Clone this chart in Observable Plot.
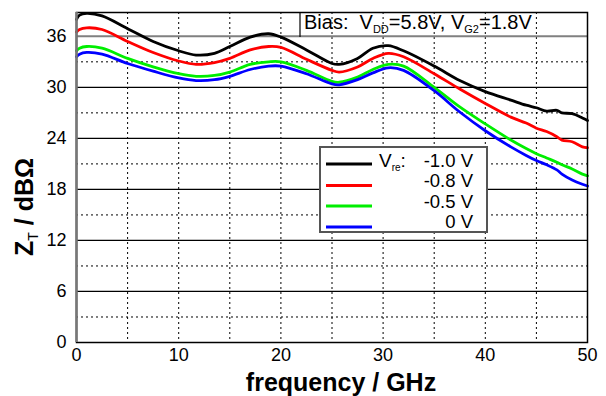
<!DOCTYPE html>
<html>
<head>
<meta charset="utf-8">
<script src="https://cdn.jsdelivr.net/npm/d3@7"></script>
<script src="https://cdn.jsdelivr.net/npm/@observablehq/plot@0.6"></script>
<style>
  html, body { margin: 0; padding: 0; background: #fff; }
  #chart { width: 606px; height: 396px; }
</style>
</head>
<body>
<div id="chart"></div>
<script>
// ---- data ----
const freq = [0, 0.3, 1, 2.5, 5, 7.5, 10, 11.7, 13.5, 15, 17, 18.8, 20, 22.5, 25, 25.7, 27.5, 29, 30.5, 32, 35, 37.5, 40, 42.5, 44, 45, 46, 47, 47.5, 48.5, 49.5, 50];
const zt_m10 = [38.0, 38.5, 38.7, 38.4, 36.9, 35.4, 34.3, 33.8, 34.0, 34.8, 35.9, 36.3, 35.9, 34.4, 32.8, 32.7, 33.4, 34.6, 34.9, 34.3, 32.5, 30.8, 29.5, 28.5, 27.9, 27.6, 27.2, 27.3, 27.0, 26.9, 26.4, 26.1];
const zt_m08 = [36.5, 36.8, 37.0, 36.8, 35.4, 34.1, 33.1, 32.7, 32.9, 33.4, 34.4, 34.8, 34.7, 33.3, 32.0, 31.8, 32.4, 33.4, 34.0, 33.6, 31.6, 29.8, 28.1, 26.5, 25.8, 25.2, 24.8, 24.2, 23.8, 23.6, 23.0, 22.9];
const zt_m05 = [34.3, 34.6, 34.8, 34.6, 33.4, 32.4, 31.6, 31.3, 31.4, 31.8, 32.7, 33.0, 33.0, 32.0, 30.7, 30.6, 31.2, 32.1, 32.7, 32.5, 30.0, 27.7, 25.7, 23.8, 22.8, 22.2, 21.7, 21.2, 20.9, 20.4, 19.8, 19.6];
const zt_0   = [33.6, 33.9, 34.1, 33.9, 32.8, 31.9, 31.1, 30.8, 30.9, 31.3, 32.1, 32.5, 32.5, 31.6, 30.4, 30.3, 30.9, 31.7, 32.3, 32.0, 29.6, 27.1, 24.9, 23.0, 22.0, 21.4, 20.9, 20.3, 19.8, 19.1, 18.6, 18.4];
const seriesNames = ["-1.0 V", "-0.8 V", "-0.5 V", "0 V"];
const seriesColors = ["#000000", "#ff0000", "#00ee00", "#0000ff"];
const seriesValues = [zt_m10, zt_m08, zt_m05, zt_0];
const xTicks = [0, 10, 20, 30, 40, 50];
const yTicks = [0, 6, 12, 18, 24, 30, 36];
const yMajorGrid = [6, 12, 18, 24, 30];
const yTopGrid = [36];
const yMinorGrid = [3, 9, 15, 21, 27, 33];
const xGrid = [5, 10, 15, 20, 25, 30, 35, 40, 45];

const rows = [];
seriesValues.forEach((vals, i) => vals.forEach((v, j) => rows.push({f: freq[j], z: v, s: seriesNames[i]})));

const font = "'Liberation Sans', Arial, sans-serif";

const chart = Plot.plot({
  width: 606,
  height: 396,
  marginLeft: 76,
  marginRight: 19,
  marginTop: 12,
  marginBottom: 54,
  style: {fontFamily: font, fontSize: "18px", color: "#000", background: "#fff"},
  x: {domain: [0, 50], ticks: xTicks, label: null},
  y: {domain: [0, 38.8], ticks: yTicks, label: null},
  color: {domain: seriesNames, range: seriesColors},
  marks: [
    Plot.ruleX(xGrid, {stroke: "#000", strokeWidth: 1, strokeDasharray: "2,3"}),
    Plot.ruleY(yMinorGrid, {stroke: "#000", strokeWidth: 1, strokeDasharray: "2,3"}),
    Plot.ruleY(yMajorGrid, {stroke: "#000", strokeWidth: 1.2}),
    Plot.ruleY(yTopGrid, {stroke: "#808080", strokeWidth: 2}),
    Plot.line(rows, {x: "f", y: "z", z: "s", stroke: "s", strokeWidth: 2.8, curve: "catmull-rom"}),
    Plot.frame({stroke: "#000", strokeWidth: 1.5}),
    Plot.ruleX([0], {stroke: "#777", strokeWidth: 2.5}),
    Plot.axisX({ticks: xTicks, tickSize: 0, tickPadding: 6, fontSize: 18, label: null}),
    Plot.axisY({ticks: yTicks, tickSize: 0, tickPadding: 10, fontSize: 18, label: null})
  ]
});

document.getElementById("chart").appendChild(chart);

const svg = d3.select(chart);
const g = svg.append("g").attr("font-family", font).attr("fill", "#000").attr("text-anchor", "start");

// x axis label
g.append("text")
  .attr("x", 341).attr("y", 391)
  .attr("text-anchor", "middle")
  .attr("font-size", 25).attr("font-weight", "bold")
  .text("frequency / GHz");

// y axis label (rotated, with subscript)
const yl = g.append("text")
  .attr("transform", "translate(33,207) rotate(-90)")
  .attr("text-anchor", "middle")
  .attr("font-size", 25).attr("font-weight", "bold");
yl.append("tspan").text("Z");
yl.append("tspan").attr("font-size", 14).attr("font-weight", "normal").attr("dy", 5).text("T");
yl.append("tspan").attr("dy", -5).text(" / dBΩ");

// bias annotation box
g.append("line").attr("x1", 300).attr("x2", 300).attr("y1", 12).attr("y2", 37)
  .attr("stroke", "#000").attr("stroke-width", 1.2);
const bt = g.append("text").attr("x", 304).attr("y", 29).attr("font-size", 20).attr("text-anchor", "start");
bt.append("tspan").text("Bias:  V");
bt.append("tspan").attr("font-size", 11).attr("dy", 4).text("DD");
bt.append("tspan").attr("dy", -4).text("=5.8V, V");
bt.append("tspan").attr("font-size", 11).attr("dy", 4).text("G2");
bt.append("tspan").attr("dy", -4).text("=1.8V");

// legend
const lg = g.append("g");
lg.append("rect").attr("x", 320).attr("y", 147).attr("width", 167).attr("height", 85)
  .attr("fill", "#fff").attr("stroke", "#555").attr("stroke-width", 2);
const ly = [164, 185.5, 206, 227];
const ty = [166.5, 187, 207.5, 228];
seriesNames.forEach((name, i) => {
  lg.append("line").attr("x1", 326).attr("x2", 372).attr("y1", ly[i]).attr("y2", ly[i])
    .attr("stroke", seriesColors[i]).attr("stroke-width", 2.8);
  lg.append("text").attr("x", 473).attr("y", ty[i]).attr("text-anchor", "end")
    .attr("font-size", 18.5).text(name);
});
const vr = lg.append("text").attr("x", 379).attr("y", 166.5).attr("font-size", 19).attr("text-anchor", "start");
vr.append("tspan").text("V");
vr.append("tspan").attr("font-size", 10).attr("dy", 4).text("re");
vr.append("tspan").attr("dy", -4).text(":");
</script>
</body>
</html>
